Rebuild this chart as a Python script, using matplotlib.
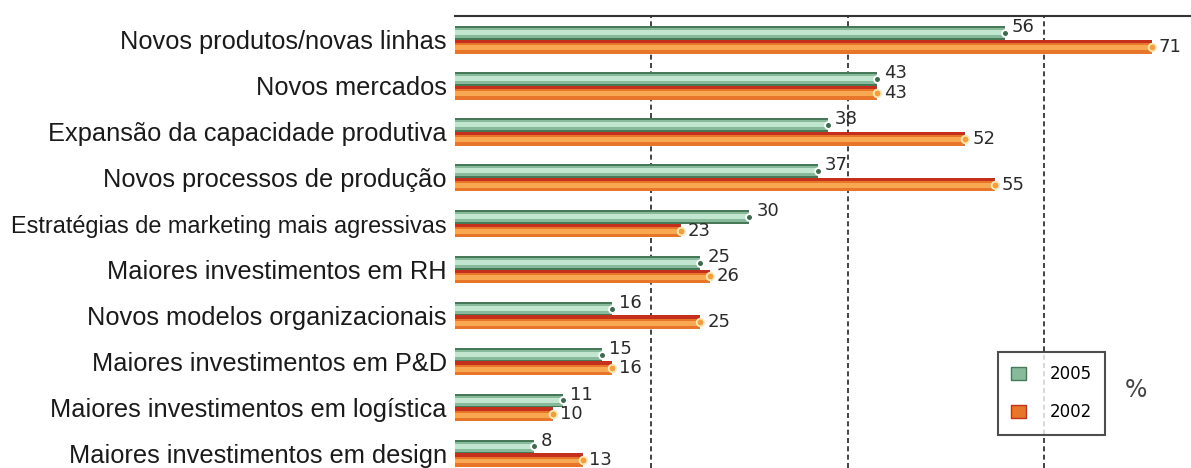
import matplotlib
matplotlib.use("Agg")
import matplotlib.pyplot as plt
from matplotlib.patches import Patch
import numpy as np

categories = [
    "Novos produtos/novas linhas",
    "Novos mercados",
    "Expansão da capacidade produtiva",
    "Novos processos de produção",
    "Estratégias de marketing mais agressivas",
    "Maiores investimentos em RH",
    "Novos modelos organizacionais",
    "Maiores investimentos em P&D",
    "Maiores investimentos em logística",
    "Maiores investimentos em design",
]
v2005 = [56, 43, 38, 37, 30, 25, 16, 15, 11, 8]
v2002 = [71, 43, 52, 55, 23, 26, 25, 16, 10, 13]
series_labels = ["2005", "2002"]

fig = plt.figure(figsize=(11.91, 4.68), dpi=100)
ax = fig.add_axes([455 / 1191, 0.0, 1 - 455 / 1191, 1 - 16 / 468])

y = np.arange(len(categories))
h = 0.30

# green bars (2005) with tubular shading
ax.barh(y - h / 2, v2005, height=h, color="#477858", edgecolor="none", zorder=2)
ax.barh(y - h / 2 + h * 0.02, v2005, height=h * 0.72, color="#86ba9b", edgecolor="none", zorder=2)
ax.barh(y - h / 2 - h * 0.02, v2005, height=h * 0.36, color="#c2e5d0", edgecolor="none", zorder=2)
# orange bars (2002)
ax.barh(y + h / 2, v2002, height=h, color="#c4301c", edgecolor="none", zorder=2)
ax.barh(y + h / 2 + h * 0.12, v2002, height=h * 0.76, color="#e8762a", edgecolor="none", zorder=2)
ax.barh(y + h / 2 + h * 0.06, v2002, height=h * 0.36, color="#f8a850", edgecolor="none", zorder=2)

ax.scatter(v2005, y - h / 2, s=24, color="#3d6b4e", edgecolor="white", linewidth=1.3, zorder=3)
ax.scatter(v2002, y + h / 2, s=30, color="#f0a040", edgecolor="#fde7b0", linewidth=1.3, zorder=3)

vfont = dict(family=["DejaVu Sans Condensed", "DejaVu Sans"], fontsize=13, color="#2a2a2a")
for i in range(len(categories)):
    ax.text(v2005[i] + 0.7, y[i] - h / 2 - 0.12, str(v2005[i]), va="center", ha="left", **vfont)
    ax.text(v2002[i] + 0.7, y[i] + h / 2 + 0.0, str(v2002[i]), va="center", ha="left", **vfont)

for gx in [20, 40, 60]:
    ax.axvline(gx, color="#222222", linestyle=(0, (3, 2)), linewidth=1.2, zorder=1)

ax.set_xlim(0, 75)
ax.set_ylim(9.32, -0.52)
ax.set_yticks(y)
ax.set_yticklabels(categories, family="Liberation Sans", color="#1a1a1a")
label_sizes = [18.3, 18.3, 18.3, 18.3, 16.9, 18.3, 18.3, 18.3, 18.3, 18.3]
for t, s in zip(ax.get_yticklabels(), label_sizes):
    t.set_fontsize(s)
ax.tick_params(axis="y", length=0, pad=6)
ax.set_xticks([])
for s in ["left", "right", "bottom"]:
    ax.spines[s].set_visible(False)
ax.spines["top"].set_color("#333333")
ax.spines["top"].set_linewidth(1.5)

handles = [Patch(facecolor="#86ba9b", edgecolor="#477858"),
           Patch(facecolor="#e8762a", edgecolor="#c4301c")]
leg = fig.legend(handles, series_labels, loc="upper left",
                 bbox_to_anchor=(998 / 1191, 1 - 352 / 468),
                 frameon=True, fancybox=False, edgecolor="#222222",
                 prop=dict(family=["DejaVu Sans Condensed", "DejaVu Sans"], size=12),
                 handlelength=0.9, handleheight=0.8, labelspacing=1.2,
                 borderpad=0.8, handletextpad=1.4, borderaxespad=0)
leg.get_frame().set_linewidth(1.5)

fig.text(1136 / 1191, 1 - 390 / 468, "%", fontsize=17, color="#444444",
         family=["DejaVu Sans Condensed", "DejaVu Sans"], ha="center", va="center")

fig.savefig("out.png", dpi=100, facecolor="white")
